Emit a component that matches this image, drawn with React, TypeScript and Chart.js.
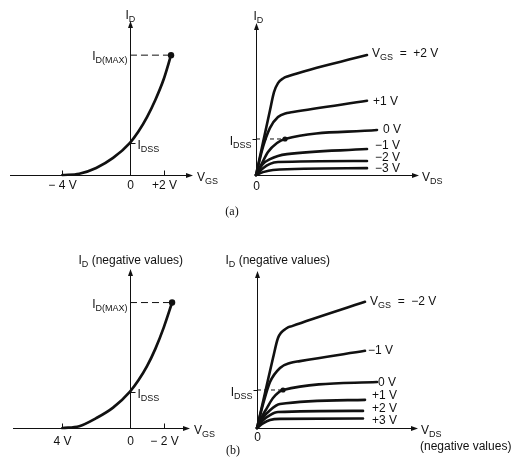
import React, { useEffect, useRef } from "react";
import { Chart, registerables } from "chart.js";

Chart.register(...registerables);

// ================= (a) n-channel =================
// Transfer characteristic: VGS (V) vs ID (in units of IDSS)
const A_VGS = [-4, -3, -2, -1, 0, 0.5, 1, 1.5, 2, 2.43];
const A_ID = [0, 0.04, 0.22, 0.53, 1.0, 1.35, 1.79, 2.33, 2.98, 3.72];
const A_VGS_TICKS = [-4, 2];
const A_VGS_TICK_LABELS = ["− 4 V", "+2 V"];

// Drain characteristics: VDS (V) vs ID (units of IDSS), one curve per VGS
const A_CURVE_LABELS = ["V_{GS}  =  +2 V", "+1 V", "0 V", "−1 V", "−2 V", "−3 V"];
const A_VDS_P2 = [0, 0.7, 1.4, 1.8, 2.2, 2.7, 3.2, 11.1];
const A_ID_P2 = [0, 0.9, 1.8, 2.3, 2.55, 2.68, 2.74, 3.33];
const A_VDS_P1 = [0, 0.7, 1.4, 2.2, 3.1, 3.7, 11.1];
const A_ID_P1 = [0, 0.78, 1.31, 1.61, 1.72, 1.75, 2.06];
const A_VDS_Z = [0, 0.6, 1.2, 2.1, 2.9, 12.1];
const A_ID_Z = [0, 0.33, 0.64, 0.89, 1.0, 1.25];
const A_VDS_M1 = [0, 0.7, 1.4, 2.2, 3.1, 11.1];
const A_ID_M1 = [0, 0.31, 0.44, 0.53, 0.58, 0.72];
const A_VDS_M2 = [0, 0.7, 1.4, 2.2, 11.1];
const A_ID_M2 = [0, 0.19, 0.31, 0.36, 0.39];
const A_VDS_M3 = [0, 0.7, 1.7, 11.1];
const A_ID_M3 = [0, 0.08, 0.14, 0.19];
const A_IDSS_VDS = 2.9; // pinch-off point on the 0 V curve

// ================= (b) p-channel (negative values) =================
const B_VGS = [4, 3, 2, 1, 0, -0.5, -1, -1.5, -2, -2.49];
const B_ID = [0, -0.05, -0.27, -0.56, -1.0, -1.31, -1.69, -2.17, -2.76, -3.44];
const B_VGS_TICKS = [4, -2];
const B_VGS_TICK_LABELS = ["4 V", "− 2 V"];

const B_CURVE_LABELS = ["V_{GS}  =  −2 V", "−1 V", "0 V", "+1 V", "+2 V", "+3 V"];
const B_VDS_N2 = [0, -0.8, -1.6, -2.1, -3.0, -3.5, -10.8];
const B_ID_N2 = [0, -0.92, -1.84, -2.37, -2.63, -2.68, -3.32];
const B_VDS_N1 = [0, -0.6, -1.3, -2.3, -3.3, -4.3, -10.8];
const B_ID_N1 = [0, -0.62, -1.21, -1.58, -1.71, -1.76, -2.03];
const B_VDS_Z = [0, -0.5, -1.0, -1.6, -2.6, -12.0];
const B_ID_Z = [0, -0.3, -0.53, -0.79, -1.0, -1.21];
const B_VDS_P1 = [0, -0.6, -1.3, -2.3, -10.8];
const B_ID_P1 = [0, -0.27, -0.47, -0.63, -0.74];
const B_VDS_P2 = [0, -0.6, -1.3, -2.1, -10.6];
const B_ID_P2 = [0, -0.2, -0.34, -0.42, -0.45];
const B_VDS_P3 = [0, -0.6, -1.3, -2.3, -10.6];
const B_ID_P3 = [0, -0.12, -0.21, -0.24, -0.25];
const B_IDSS_VDS = -2.6;

// ================= styling / layout =================
const W = 517;
const H = 464;
const INK = "#111";
const FONT = "'Liberation Sans', Arial, sans-serif";
const MAIN = 12;
const SUB = 9;
const A_LABEL_OFFSETS = [[5, -2], [6, 0], [6, -1], [8, -4], [8, -4], [8, 0]];
const B_LABEL_OFFSETS = [[5, -1], [3, -1], [1, 0], [7, -5], [9, -3], [9, 1]];

type Part = { t: string; sub?: boolean };

function parseRich(s: string): Part[] {
  const parts: Part[] = [];
  const re = /_\{([^}]*)\}/g;
  let last = 0;
  let m: RegExpExecArray | null;
  while ((m = re.exec(s))) {
    if (m.index > last) parts.push({ t: s.slice(last, m.index) });
    parts.push({ t: m[1], sub: true });
    last = re.lastIndex;
  }
  if (last < s.length) parts.push({ t: s.slice(last) });
  return parts;
}

function drawRich(ctx: CanvasRenderingContext2D, s: string, x: number, y: number, align: "left" | "right" | "center" = "left") {
  const parts = parseRich(s);
  let w = 0;
  for (const p of parts) {
    ctx.font = `${p.sub ? SUB : MAIN}px ${FONT}`;
    w += ctx.measureText(p.t).width;
  }
  let cx = align === "left" ? x : align === "right" ? x - w : x - w / 2;
  const base = y + 4.3;
  ctx.save();
  ctx.fillStyle = INK;
  ctx.textAlign = "left";
  ctx.textBaseline = "alphabetic";
  for (const p of parts) {
    ctx.font = `${p.sub ? SUB : MAIN}px ${FONT}`;
    ctx.fillText(p.t, cx, p.sub ? base + 3 : base);
    cx += ctx.measureText(p.t).width;
  }
  ctx.restore();
}

function px(chart: any) {
  const sx = chart.scales.x;
  const sy = chart.scales.y;
  return {
    X: (v: number) => sx.getPixelForValue(v),
    Y: (v: number) => sy.getPixelForValue(v),
    x0: Math.round(sx.getPixelForValue(0)) + 0.5,
    y0: Math.round(sy.getPixelForValue(0)) + 0.5,
    a: chart.chartArea,
  };
}

function drawAxes(chart: any) {
  const ctx: CanvasRenderingContext2D = chart.ctx;
  const { x0, y0, a } = px(chart);
  ctx.save();
  ctx.strokeStyle = INK;
  ctx.fillStyle = INK;
  ctx.lineWidth = 1;
  ctx.beginPath();
  ctx.moveTo(a.left, y0);
  ctx.lineTo(a.right - 6, y0);
  ctx.moveTo(x0, y0);
  ctx.lineTo(x0, a.top + 6);
  ctx.stroke();
  ctx.beginPath();
  ctx.moveTo(a.right, y0);
  ctx.lineTo(a.right - 7, y0 - 2.5);
  ctx.lineTo(a.right - 7, y0 + 2.5);
  ctx.closePath();
  ctx.fill();
  ctx.beginPath();
  ctx.moveTo(x0, a.top);
  ctx.lineTo(x0 - 2.5, a.top + 7);
  ctx.lineTo(x0 + 2.5, a.top + 7);
  ctx.closePath();
  ctx.fill();
  ctx.restore();
}

function seg(ctx: CanvasRenderingContext2D, x1: number, y1: number, x2: number, y2: number) {
  ctx.save();
  ctx.strokeStyle = INK;
  ctx.lineWidth = 1;
  ctx.beginPath();
  ctx.moveTo(x1, y1);
  ctx.lineTo(x2, y2);
  ctx.stroke();
  ctx.restore();
}

const pts = (xs: number[], ys: number[]) => xs.map((x, i) => ({ x, y: ys[i] }));

const curve = (xs: number[], ys: number[], width = 2.6) => ({
  data: pts(xs, ys),
  borderColor: INK,
  borderWidth: width,
  pointRadius: 0,
  cubicInterpolationMode: "monotone",
  fill: false,
  clip: false,
  borderCapStyle: "round",
  borderJoinStyle: "round",
});

const dashed = (xs: number[], ys: number[], dash: number[]) => ({
  data: pts(xs, ys),
  borderColor: INK,
  borderWidth: 1,
  borderDash: dash,
  pointRadius: 0,
  tension: 0,
  fill: false,
  clip: false,
});

const dot = (x: number, y: number, r: number) => ({
  data: [{ x, y }],
  showLine: false,
  pointRadius: r,
  pointBackgroundColor: INK,
  pointBorderColor: INK,
  pointBorderWidth: 0,
  clip: false,
});

type Spec = {
  padding: { left: number; top: number; right: number; bottom: number };
  x: { min: number; max: number; reverse?: boolean };
  y: { min: number; max: number; reverse?: boolean };
  datasets: any[];
  decorate: (chart: any) => void;
};

// ---- panel specs ----
const A_IDMAX = A_ID[A_ID.length - 1];
const A_VGSMAX = A_VGS[A_VGS.length - 1];
const B_IDMAX = B_ID[B_ID.length - 1];
const B_VGSMAX = B_VGS[B_VGS.length - 1];

const transferDecor = (ticks: number[], labels: string[], idss: number, idmax: number, yLabel: string, yLabelDx: number, yLabelDy: number, tickDy: number) => (chart: any) => {
  const ctx: CanvasRenderingContext2D = chart.ctx;
  const { X, Y, x0, y0, a } = px(chart);
  ticks.forEach((v, i) => {
    const tx = Math.round(X(v)) + 0.5;
    seg(ctx, tx, y0 - 5, tx, y0);
    drawRich(ctx, labels[i], tx, y0 + tickDy, "center");
  });
  drawRich(ctx, "0", x0, y0 + tickDy, "center");
  const yi = Math.round(Y(idss)) + 0.5;
  seg(ctx, x0, yi, x0 + 5, yi);
  drawRich(ctx, "I_{DSS}", x0 + 7, yi + 1, "left");
  drawRich(ctx, "I_{D(MAX)}", x0 - 3, Y(idmax) + 1, "left" === "left" ? "right" : "right");
  drawRich(ctx, yLabel, x0 + yLabelDx, a.top + yLabelDy, "left");
  drawRich(ctx, "V_{GS}", a.right + 4, y0 + 1, "left");
};

const drainDecor = (labels: string[], offsets: number[][], yLabel: string, yLabelDx: number, yLabelDy: number, zeroDy: number, extra?: (chart: any) => void) => (chart: any) => {
  const ctx: CanvasRenderingContext2D = chart.ctx;
  const { Y, x0, y0, a } = px(chart);
  labels.forEach((lab, i) => {
    const els = chart.getDatasetMeta(i).data;
    const el = els[els.length - 1];
    drawRich(ctx, lab, el.x + offsets[i][0], el.y + offsets[i][1], "left");
  });
  drawRich(ctx, "0", x0, y0 + zeroDy, "center");
  const yi = Math.round(Y(chart.options.idss)) + 0.5;
  seg(ctx, x0 - 4, yi, x0, yi);
  drawRich(ctx, "I_{DSS}", x0 - 5, yi + 1, "right");
  drawRich(ctx, yLabel, x0 + yLabelDx, a.top + yLabelDy, "left");
  drawRich(ctx, "V_{DS}", a.right + 3, y0 + 1, "left");
  if (extra) extra(chart);
};

const SPECS: (Spec & { idss?: number })[] = [
  {
    padding: { left: 10, top: 21, right: W - 193, bottom: H - 175 },
    x: { min: -7.1, max: 3.73 },
    y: { min: 0, max: 4.78 },
    datasets: [
      curve(A_VGS, A_ID, 2.7),
      dashed([0, A_VGSMAX], [A_IDMAX, A_IDMAX], [7, 4]),
      dot(A_VGSMAX, A_IDMAX, 3.2),
    ],
    decorate: transferDecor(A_VGS_TICKS, A_VGS_TICK_LABELS, 1, A_IDMAX, "I_{D}", -5, -6, 9.5),
  },
  {
    padding: { left: 256, top: 23, right: W - 419, bottom: H - 175 },
    x: { min: 0, max: 16.3 },
    y: { min: 0, max: 4.22 },
    idss: 1,
    datasets: [
      curve(A_VDS_P2, A_ID_P2),
      curve(A_VDS_P1, A_ID_P1),
      curve(A_VDS_Z, A_ID_Z),
      curve(A_VDS_M1, A_ID_M1),
      curve(A_VDS_M2, A_ID_M2),
      curve(A_VDS_M3, A_ID_M3),
      dashed([0, A_IDSS_VDS], [1, 1], [4, 3]),
      dot(A_IDSS_VDS, 1, 2.6),
    ],
    decorate: drainDecor(A_CURVE_LABELS, A_LABEL_OFFSETS, "I_{D}", -3, -7, 10),
  },
  {
    padding: { left: 13, top: 269, right: W - 190, bottom: H - 428 },
    x: { min: -3.55, max: 6.92, reverse: true },
    y: { min: -4.36, max: 0, reverse: true },
    datasets: [
      curve(B_VGS, B_ID, 2.7),
      dashed([0, B_VGSMAX], [B_IDMAX, B_IDMAX], [7, 4]),
      dot(B_VGSMAX, B_IDMAX, 3.2),
    ],
    decorate: transferDecor(B_VGS_TICKS, B_VGS_TICK_LABELS, -1, B_IDMAX, "I_{D} (negative values)", -52, -9, 12.5),
  },
  {
    padding: { left: 257, top: 271, right: W - 418, bottom: H - 428 },
    x: { min: -16.1, max: 0, reverse: true },
    y: { min: -4.13, max: 0, reverse: true },
    idss: -1,
    datasets: [
      curve(B_VDS_N2, B_ID_N2),
      curve(B_VDS_N1, B_ID_N1),
      curve(B_VDS_Z, B_ID_Z),
      curve(B_VDS_P1, B_ID_P1),
      curve(B_VDS_P2, B_ID_P2),
      curve(B_VDS_P3, B_ID_P3),
      dashed([0, B_IDSS_VDS], [-1, -1], [4, 3]),
      dot(B_IDSS_VDS, -1, 2.6),
    ],
    decorate: drainDecor(B_CURVE_LABELS, B_LABEL_OFFSETS, "I_{D} (negative values)", -32, -11, 8, (chart: any) => {
      const { y0, a } = px(chart);
      drawRich(chart.ctx, "(negative values)", a.right + 2, y0 + 17, "left");
    }),
  },
];

function Panel({ spec }: { spec: Spec & { idss?: number } }) {
  const ref = useRef<HTMLCanvasElement | null>(null);
  useEffect(() => {
    if (!ref.current) return;
    const chart = new Chart(ref.current, {
      type: "line",
      data: { datasets: spec.datasets as any },
      options: {
        animation: false,
        responsive: false,
        events: [],
        layout: { padding: spec.padding },
        plugins: {
          legend: { display: false },
          tooltip: { enabled: false },
          title: { display: false },
        },
        scales: {
          x: { type: "linear", display: false, min: spec.x.min, max: spec.x.max, reverse: !!spec.x.reverse },
          y: { type: "linear", display: false, min: spec.y.min, max: spec.y.max, reverse: !!spec.y.reverse },
        },
        idss: spec.idss,
      } as any,
      plugins: [
        {
          id: "axes",
          beforeDatasetsDraw: (chart: any) => drawAxes(chart),
        },
        {
          id: "decor",
          afterDatasetsDraw: (chart: any) => spec.decorate(chart),
        },
      ],
    });
    return () => chart.destroy();
  }, [spec]);
  return (
    <canvas
      ref={ref}
      width={W}
      height={H}
      style={{ position: "absolute", left: 0, top: 0, width: W, height: H }}
    />
  );
}

const captionStyle: React.CSSProperties = {
  position: "absolute",
  width: 40,
  textAlign: "center",
  font: "12px 'Liberation Serif', 'Times New Roman', serif",
  lineHeight: "14px",
  color: INK,
};

export default function App() {
  return (
    <div style={{ position: "fixed", left: 0, top: 0, width: W, height: H, background: "#fff", overflow: "hidden" }}>
      {SPECS.map((s, i) => (
        <Panel key={i} spec={s} />
      ))}
      <div style={{ ...captionStyle, left: 212, top: 204 }}>(a)</div>
      <div style={{ ...captionStyle, left: 213, top: 443 }}>(b)</div>
    </div>
  );
}
